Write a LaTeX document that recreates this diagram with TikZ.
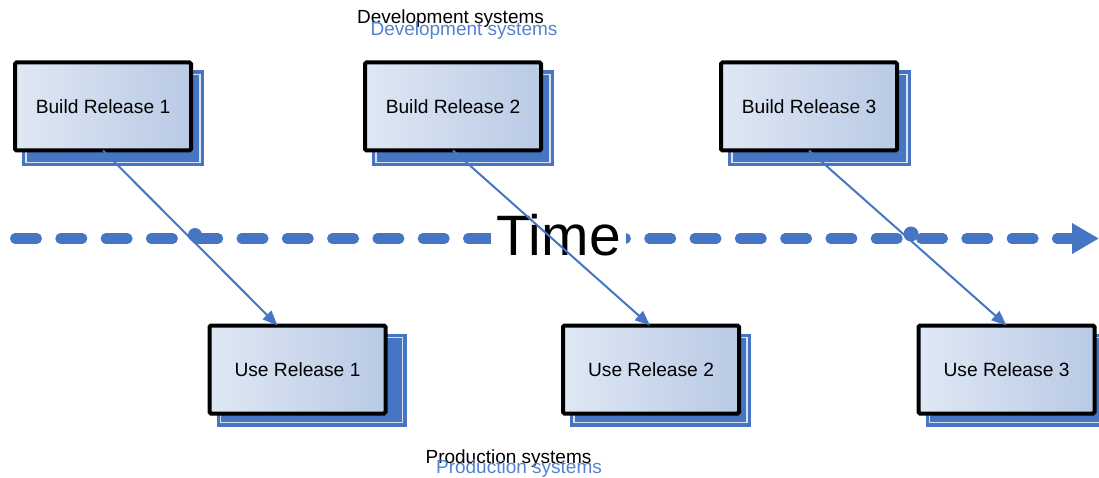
\documentclass[tikz,border=0pt]{standalone}
\usepackage{fontspec}
\setmainfont{Liberation Sans}
\usetikzlibrary{arrows.meta,backgrounds,calc}

\definecolor{relblue}{RGB}{70,117,196}
\definecolor{textblue}{RGB}{84,130,206}
\definecolor{boxlight}{RGB}{223,232,244}
\definecolor{boxdark}{RGB}{185,202,229}
\definecolor{shadowline}{RGB}{218,225,238}

\tikzset{
  release/.style={draw=black, line width=4pt, rounded corners=1.5pt,
    left color=boxlight, right color=boxdark,
    minimum width=176pt, minimum height=88pt, inner sep=0pt, outer sep=0pt,
    font=\fontsize{19.2}{22}\selectfont},
  systext/.style={anchor=base, inner sep=0pt, font=\fontsize{19}{22}\selectfont},
  flow/.style={draw=relblue, line width=2pt, -{Triangle[length=15pt,width=12pt]}},
  timeline/.style={draw=relblue, line width=10pt, line cap=round,
    dash pattern=on 22pt off 23.3pt},
}

\begin{document}
\begin{tikzpicture}[x=1pt, y=-1pt]
  \useasboundingbox (0,0) rectangle (1099,478);

  % time axis with its arrow head
  \coordinate (tstart) at (15,238.5);
  \coordinate (tend) at (1099,238.5);
  \draw[timeline, -{Triangle[length=27pt,width=29pt,sharp]}] (tstart) -- (tend);
  % line jumps where the release arrows cross the axis
  \fill[relblue] (195,235) circle[radius=7pt];
  \fill[relblue] (911,234) circle[radius=7.5pt];

  \node[fill=white, inner xsep=5pt, inner ysep=0pt, anchor=base,
        font=\fontsize{57}{60}\selectfont] (time) at (558.5,255) {Time};

  % release boxes
  \node[release] (b1) at (103,106.5) {Build Release 1};
  \node[release] (b2) at (453,106.5) {Build Release 2};
  \node[release] (b3) at (809,106.5) {Build Release 3};
  \node[release] (u1) at (297.5,369.5) {Use Release 1};
  \node[release] (u2) at (651,369.5) {Use Release 2};
  \node[release] (u3) at (1006.5,369.5) {Use Release 3};

  % offset shadows behind the boxes
  \begin{scope}[on background layer]
    \foreach \n/\r/\b in {b1/13/16, b2/13/16, b3/14/16, u1/21/13, u2/12/13, u3/14/13} {
      \fill[relblue] ([shift={(7pt,-8pt)}]\n.north west)
        rectangle ([shift={(\r pt,-\b pt)}]\n.south east);
      \draw[shadowline, line width=1.2pt] ([shift={(11pt,-12pt)}]\n.north west)
        rectangle ([shift={(\r pt-4pt,-\b pt+4pt)}]\n.south east);
    }
  \end{scope}

  % hand-over from development to production
  \draw[flow] (b1.south) -- ([xshift=-20pt]u1.north);
  \draw[flow] (b2.south) -- ([xshift=-1pt]u2.north);
  \draw[flow] (b3.south) -- (u3.north);

  % system labels
  \node[systext] (dev) at (450.5,24) {Development systems};
  \node[systext, text=textblue] (devb) at (464,36) {Development systems};
  \node[systext] (prod) at (508.5,463) {Production systems};
  \node[systext, text=textblue] (prodb) at (519,473) {Production systems};
\end{tikzpicture}
\end{document}
